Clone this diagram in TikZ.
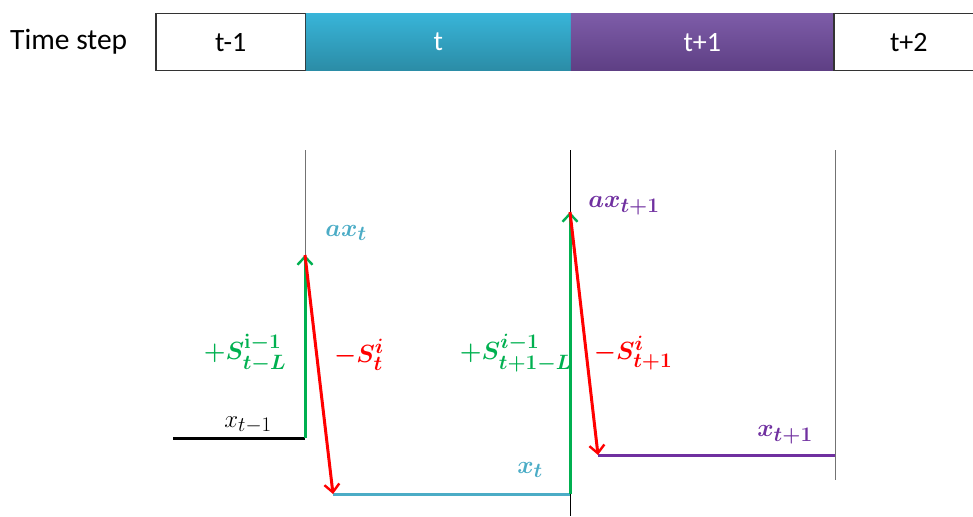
\documentclass[tikz,border=0pt]{standalone}
\usepackage{fontspec}
\usepackage{amsmath}
\usepackage{bm}
\setmainfont{Carlito}
\usetikzlibrary{arrows.meta}
\definecolor{cyanA}{HTML}{38B4D8}
\definecolor{cyanB}{HTML}{2B8CA6}
\definecolor{purA}{HTML}{7D5CA8}
\definecolor{purB}{HTML}{5E3F84}
\definecolor{lblcyan}{HTML}{4BACC6}
\definecolor{lblpur}{HTML}{7030A0}
\definecolor{lblgreen}{HTML}{00B050}
\definecolor{lblred}{HTML}{FF0000}
\tikzset{
  stepcell/.style={draw=black!80, line width=1.5pt, minimum height=57pt, inner sep=0pt, font=\fontsize{28}{31}\selectfont, anchor=north west},
  guide/.style={draw=black!55, line width=0.8pt},
  level/.style={line width=3pt},
  uparrow/.style={draw=lblgreen, line width=3pt, -{Straight Barb[length=8pt,width=15pt,line width=2.4pt]}},
  downarrow/.style={draw=lblred, line width=3pt, -{Straight Barb[length=8pt,width=15pt,line width=2.4pt]}},
  lbl/.style={inner sep=0pt, font=\fontsize{29}{32}\selectfont}
}
\begin{document}
\begin{tikzpicture}[x=1pt,y=-1pt]
\useasboundingbox (0,0) rectangle (973,516);
% time step bar
\node[anchor=west, inner sep=0pt, font=\fontsize{29.5}{32}\selectfont] (ts) at (10,42) {Time step};
\node[stepcell, fill=white, minimum width=150pt] (b1) at (155,13) {t-1};
\node[stepcell, draw=none, top color=cyanA, bottom color=cyanB, text=white, minimum width=265pt] (b2) at (305,13) {t};
\node[stepcell, draw=none, top color=purA, bottom color=purB, text=white, minimum width=263pt] (b3) at (570,13) {t+1};
\node[stepcell, fill=white, minimum width=150pt] (b4) at (833,13) {t+2};
% coordinates
\coordinate (g1top) at (305,150);
\coordinate (g2top) at (570,150);
\coordinate (g2bot) at (570,516);
\coordinate (g3top) at (835,150);
\coordinate (g3bot) at (835,480);
\coordinate (p0) at (173,438);
\coordinate (p1) at (305,438);
\coordinate (p2) at (305,255);
\coordinate (p3) at (333,494);
\coordinate (p4) at (570,494);
\coordinate (p5) at (570,212);
\coordinate (p6) at (598,455);
\coordinate (p7) at (835,455);
% guides
\draw[guide] (g1top) -- (p2);
\draw[draw=black, line width=0.9pt] (g2top) -- (g2bot);
\draw[guide] (g3top) -- (g3bot);
% levels
\draw[level, draw=black] (p0) -- (p1);
\draw[level, draw=lblcyan] (p3) -- (p4);
\draw[level, draw=lblpur] (p6) -- (p7);
% arrows
\draw[uparrow] (p1) -- (p2);
\draw[downarrow] (p2) -- (p3);
\draw[uparrow] (p4) -- (p5);
\draw[downarrow] (p5) -- (p6);
% labels
\node[lbl, text=lblcyan] (l1) at (346,233) {$\bm{ax_t}$};
\node[lbl, text=lblgreen] (l2) at (245,353) {$\bm{+S^{\mathbf{i-1}}_{t-L}}$};
\node[lbl, text=lblred] (l3) at (359,355) {$\bm{-S^{i}_{t}}$};
\node[lbl, text=black] (l4) at (248,425) {$x_{t-1}$};
\node[lbl, text=lblcyan] (l5) at (530,470) {$\bm{x_t}$};
\node[lbl, text=lblpur] (l6) at (624,206) {$\bm{ax_{t+1}}$};
\node[lbl, text=lblgreen] (l7) at (516,353) {$\bm{+S^{i-1}_{t+1-L}}$};
\node[lbl, text=lblred] (l8) at (633,353) {$\bm{-S^{i}_{t+1}}$};
\node[lbl, text=lblpur] (l9) at (785,435) {$\bm{x_{t+1}}$};
\end{tikzpicture}
\end{document}
